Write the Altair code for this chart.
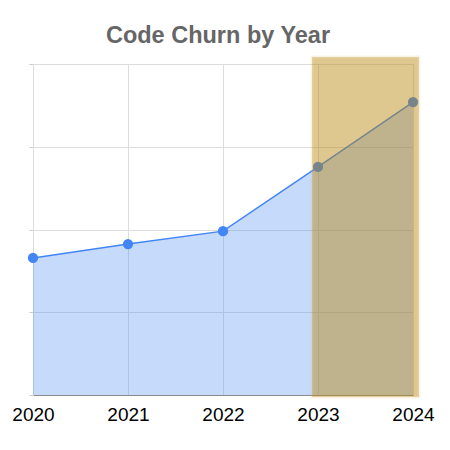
import altair as alt
import pandas as pd

years = [2020, 2021, 2022, 2023, 2024]
churn = [41.4, 45.6, 49.5, 68.9, 88.5]
highlight_start = [2023]
highlight_end = [2024]

df = pd.DataFrame({"year": years, "churn": churn})
hl = pd.DataFrame({"start": highlight_start, "end": highlight_end, "top": [100], "bottom": [0]})

x_scale = alt.Scale(domain=[2020, 2024], nice=False, zero=False)
y_scale = alt.Scale(domain=[0, 100], nice=False)

x_axis = alt.Axis(values=years, format="d", title=None, labelFontSize=19, labelColor="#000000",
                  labelFont="Liberation Sans", labelPadding=10, ticks=False, grid=True,
                  gridColor="#dddddd", domainColor="#8a8a8a", labelFlush=False)
y_axis = alt.Axis(values=[0, 25, 50, 75, 100], labels=False, title=None, ticks=True, tickSize=4,
                  tickColor="#cccccc", grid=True, gridColor="#dddddd", domainColor="#dddddd")

base = alt.Chart(df)

area = base.mark_area(color="#4285f4", opacity=0.3).encode(
    x=alt.X("year:Q", scale=x_scale, axis=x_axis),
    y=alt.Y("churn:Q", scale=y_scale, axis=y_axis),
)
line = base.mark_line(color="#4285f4", strokeWidth=1.5).encode(
    x=alt.X("year:Q", scale=x_scale),
    y=alt.Y("churn:Q", scale=y_scale),
)
points = base.mark_circle(color="#4285f4", size=105, opacity=1).encode(
    x=alt.X("year:Q", scale=x_scale),
    y=alt.Y("churn:Q", scale=y_scale),
)
rect = alt.Chart(hl).mark_rect(
    color="#b8860b", opacity=0.45, xOffset=-6, x2Offset=6, yOffset=-7, y2Offset=2,
    stroke="#d9b55a", strokeOpacity=0.35, strokeWidth=3,
).encode(
    x=alt.X("start:Q", scale=x_scale),
    x2="end:Q",
    y=alt.Y("top:Q", scale=y_scale),
    y2="bottom:Q",
)

chart = alt.layer(area, line, points, rect).properties(
    width=380,
    height=331,
    title=alt.TitleParams("Code Churn by Year", fontSize=23.5, fontWeight="bold", color="#666666",
                          font="Liberation Sans", offset=8, anchor="middle", dx=-5),
    autosize=alt.AutoSizeParams(type="none"),
    padding={"left": 25, "top": 56, "right": 27, "bottom": 40},
).configure_view(stroke=None)

chart.save("out.html", embed_options={"renderer": "svg", "actions": False})
